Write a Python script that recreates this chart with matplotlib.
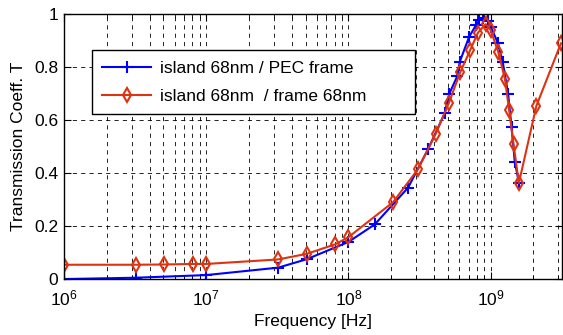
import matplotlib
matplotlib.use("Agg")
import matplotlib.pyplot as plt
from matplotlib.ticker import LogLocator, NullFormatter

plt.rcParams['font.family'] = ['Liberation Sans', 'DejaVu Sans']
plt.rcParams['mathtext.fontset'] = 'custom'
plt.rcParams['mathtext.rm'] = 'Liberation Sans'

# island 68nm / PEC frame
f_pec = [1e6, 3.2e6, 1e7, 3.2e7, 5.1e7, 1e8, 1.53e8, 2.63e8, 3.63e8, 4.75e8,
         5.13e8, 5.82e8, 6.07e8, 7.06e8, 7.89e8, 8.32e8, 8.81e8, 9.55e8,
         1.007e9, 1.127e9, 1.216e9, 1.327e9, 1.403e9, 1.479e9, 1.585e9]
t_pec = [0.0, 0.005, 0.015, 0.043, 0.075, 0.14, 0.206, 0.345, 0.49, 0.625,
         0.70, 0.765, 0.82, 0.914, 0.958, 0.977, 0.984, 0.975,
         0.95, 0.89, 0.82, 0.70, 0.575, 0.443, 0.362]

# island 68nm / frame 68nm
f_frame = [1e6, 3.2e6, 5.07e6, 8.1e6, 1e7, 3.2e7, 5.08e7, 8.07e7, 1e8, 2.06e8,
           3.09e8, 4.11e8, 5.1e8, 6.12e8, 7.21e8, 8.15e8, 9.23e8, 1.0e9,
           1.13e9, 1.26e9, 1.35e9, 1.45e9, 1.58e9, 2.1e9, 3.12e9]
t_frame = [0.054, 0.054, 0.055, 0.057, 0.057, 0.074, 0.095, 0.131, 0.158, 0.29,
           0.415, 0.548, 0.666, 0.781, 0.866, 0.93, 0.962, 0.94,
           0.858, 0.756, 0.638, 0.508, 0.362, 0.654, 0.889]

fs = 12.5

fig = plt.figure(figsize=(5.63, 3.35), dpi=100)
ax = fig.add_axes([0.1137, 0.167, 0.884, 0.791])

ax.plot(f_pec, t_pec, color='#0000ff', lw=1.5, marker='+', ms=8, mew=1.5,
        label='island 68nm / PEC frame')
ax.plot(f_frame, t_frame, color='#dd3311', lw=1.5, marker='d', ms=7, mew=1.5,
        mfc='none', label='island 68nm  / frame 68nm')

ax.set_xscale('log')
ax.set_xlim(1e6, 10 ** 9.5)
ax.set_ylim(0, 1)
ax.set_yticks([0, 0.2, 0.4, 0.6, 0.8, 1])
ax.set_yticklabels(['0', '0.2', '0.4', '0.6', '0.8', '1'])
ax.xaxis.set_major_locator(LogLocator(base=10, numticks=10))
ax.xaxis.set_minor_locator(LogLocator(base=10, subs=range(2, 10), numticks=20))
ax.xaxis.set_minor_formatter(NullFormatter())

ax.grid(True, which='both', axis='x', color='black', ls=(0, (5, 5)), lw=0.6)
ax.grid(True, which='major', axis='y', color='black', ls=(0, (5, 5)), lw=0.6)
ax.tick_params(which='both', direction='in', top=True, right=True, labelsize=fs)
ax.tick_params(which='major', length=5)
ax.tick_params(which='minor', length=3)
ax.tick_params(axis='x', which='major', pad=7)
ax.tick_params(axis='y', which='major', pad=4)
for s in ax.spines.values():
    s.set_linewidth(1.0)

ax.set_xlabel('Frequency [Hz]', fontsize=fs, labelpad=4)
ax.set_ylabel('Transmission Coeff. T', fontsize=fs, labelpad=6)

# legend box stretched to the width used in the reference
leg = ax.legend(loc='upper left', bbox_to_anchor=(0.056, 0.634, 0.649, 0.23),
                mode='expand', borderaxespad=0,
                fancybox=False, framealpha=1, edgecolor='black', fontsize=fs,
                handlelength=2.8, handletextpad=0.5, borderpad=0.6,
                labelspacing=0.75)
leg.get_frame().set_linewidth(1.0)

fig.savefig('out.png', dpi=100)
